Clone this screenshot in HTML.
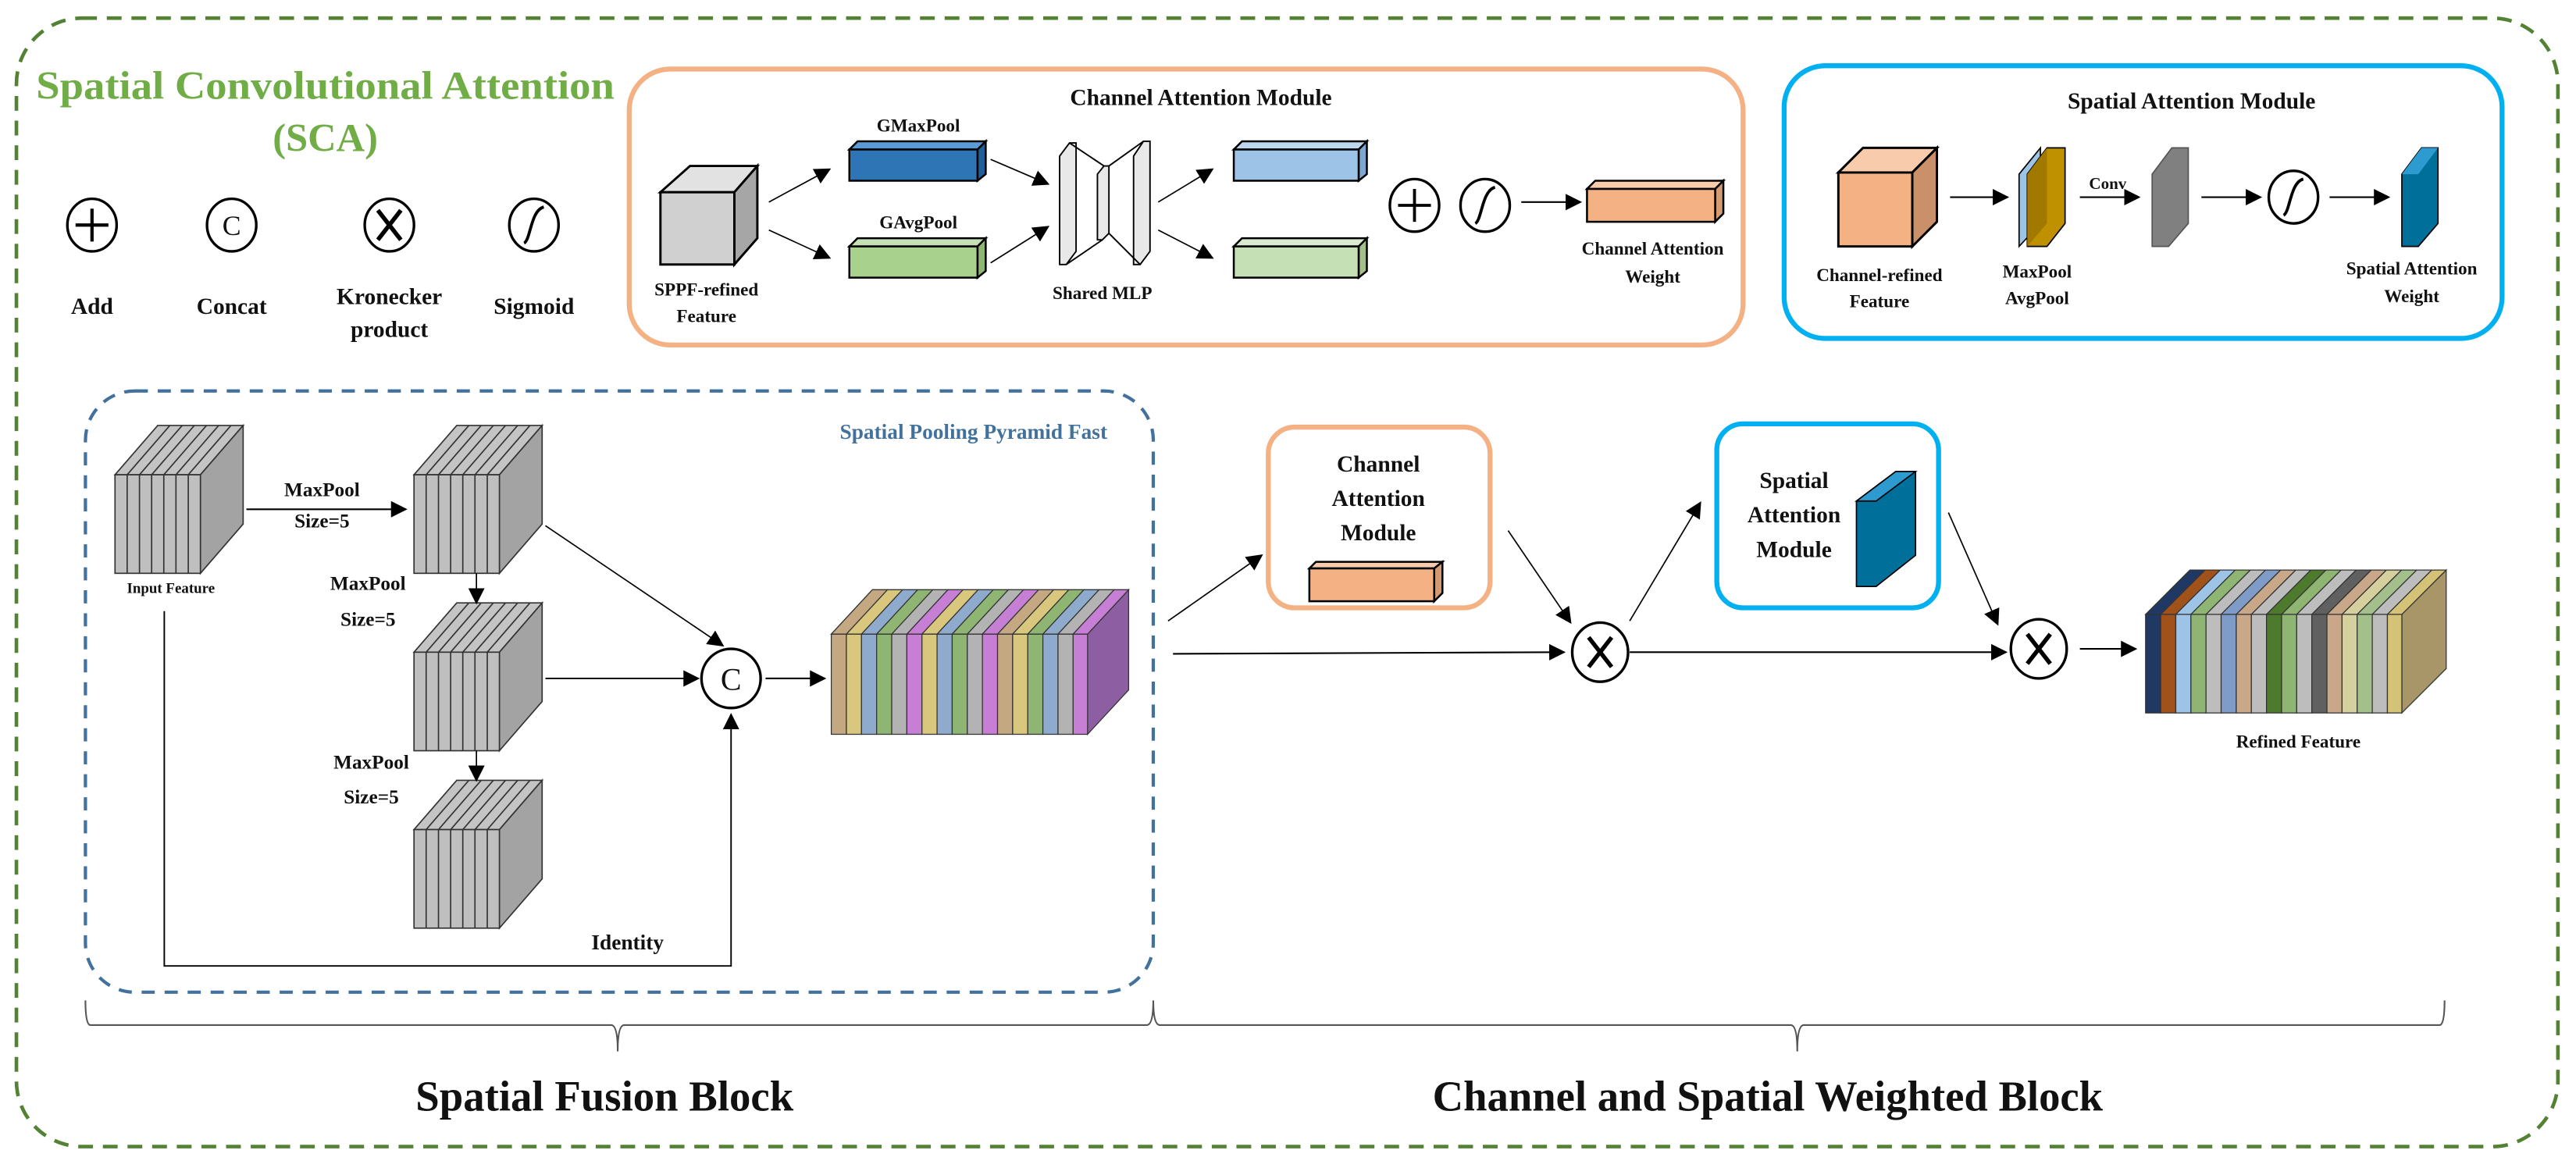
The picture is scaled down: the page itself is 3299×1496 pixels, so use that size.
<!DOCTYPE html>
<html><head><meta charset="utf-8"><style>
html,body{margin:0;padding:0;background:#fff;}
svg{display:block;}
text{font-family:"Liberation Serif",serif;font-weight:bold;fill:#111;}
</style></head><body>
<svg width="3299" height="1496" viewBox="0 0 1568 711" xmlns="http://www.w3.org/2000/svg">
<defs>
<marker id="ah" markerUnits="userSpaceOnUse" markerWidth="10" markerHeight="10" refX="9" refY="5" orient="auto">
<path d="M0,0 L10,5 L0,10 z" fill="#000"/></marker>
<g id="gcube">
<polygon points="0,0 26,-30 78,-30 52,0" fill="#c4c4c4" stroke="#333" stroke-width="0.8"/>
<polygon points="52,0 78,-30 78,30 52,60" fill="#a3a3a3" stroke="#333" stroke-width="0.8"/>
<rect x="0" y="0" width="52" height="60" fill="#bfbfbf" stroke="#333" stroke-width="0.8"/>
<g stroke="#333" stroke-width="0.8">
<line x1="7.4" y1="0" x2="7.4" y2="60"/><line x1="14.9" y1="0" x2="14.9" y2="60"/><line x1="22.3" y1="0" x2="22.3" y2="60"/><line x1="29.7" y1="0" x2="29.7" y2="60"/><line x1="37.1" y1="0" x2="37.1" y2="60"/><line x1="44.6" y1="0" x2="44.6" y2="60"/>
<line x1="7.4" y1="0" x2="33.4" y2="-30"/><line x1="14.9" y1="0" x2="40.9" y2="-30"/><line x1="22.3" y1="0" x2="48.3" y2="-30"/><line x1="29.7" y1="0" x2="55.7" y2="-30"/><line x1="37.1" y1="0" x2="63.1" y2="-30"/><line x1="44.6" y1="0" x2="70.6" y2="-30"/>
</g></g>
<g id="circ"><ellipse cx="0" cy="0" rx="15" ry="16" fill="#fff" stroke="#000" stroke-width="1.6"/></g>
</defs>

<rect x="10" y="11" width="1547" height="687" rx="40" fill="none" stroke="#548235" stroke-width="2.2" stroke-dasharray="9,6"/>
<text x="22" y="60" font-size="24" style="fill:#70ad47" textLength="352" lengthAdjust="spacingAndGlyphs">Spatial Convolutional Attention</text>
<text x="198" y="92" font-size="24" text-anchor="middle" style="fill:#70ad47">(SCA)</text>

<use href="#circ" x="56" y="137"/><path d="M56,127 V147 M46,137 H66" stroke="#000" stroke-width="2"/>
<use href="#circ" x="141" y="137"/><text x="141" y="143" font-size="17" text-anchor="middle" style="font-weight:normal">C</text>
<use href="#circ" x="237" y="137"/><path d="M230,128 L244,146 M244,128 L230,146" stroke="#000" stroke-width="2.6"/>
<use href="#circ" x="325" y="137"/><path d="M319,148 C323,146 323,128 331,126" stroke="#000" stroke-width="1.8" fill="none"/>
<text x="56" y="191" font-size="14" text-anchor="middle">Add</text>
<text x="141" y="191" font-size="14" text-anchor="middle">Concat</text>
<text x="237" y="185" font-size="14" text-anchor="middle">Kronecker</text>
<text x="237" y="205" font-size="14" text-anchor="middle">product</text>
<text x="325" y="191" font-size="14" text-anchor="middle">Sigmoid</text>

<rect x="383" y="42" width="678" height="168" rx="25" fill="none" stroke="#f4b183" stroke-width="3"/>
<text x="731" y="64" font-size="14" text-anchor="middle">Channel Attention Module</text>
<polygon points="402,117 420,101 461,101 447,117" fill="#e2e2e2" stroke="#000" stroke-width="1.4"/>
<polygon points="447,117 461,101 461,145 447,161" fill="#a6a6a6" stroke="#000" stroke-width="1.4"/>
<rect x="402" y="117" width="45" height="44" fill="#d0d0d0" stroke="#000" stroke-width="1.4"/>
<text x="430" y="180" font-size="11" text-anchor="middle">SPPF-refined</text>
<text x="430" y="196" font-size="11" text-anchor="middle">Feature</text>
<line x1="468" y1="123" x2="505" y2="103" stroke="#000" stroke-width="0.8" marker-end="url(#ah)"/>
<line x1="468" y1="140" x2="505" y2="157" stroke="#000" stroke-width="0.8" marker-end="url(#ah)"/>
<polygon points="517,91 522,86 600,86 595,91" fill="#5b9bd5" stroke="#000" stroke-width="1.2"/>
<polygon points="595,91 600,86 600,106 595,110" fill="#1f5f99" stroke="#000" stroke-width="1.2"/>
<rect x="517" y="91" width="78" height="19" fill="#2e75b6" stroke="#000" stroke-width="1.2"/>
<text x="559" y="80" font-size="11" text-anchor="middle">GMaxPool</text>
<polygon points="517,150 522,145 600,145 595,150" fill="#c5e0b4" stroke="#000" stroke-width="1.2"/>
<polygon points="595,150 600,145 600,165 595,169" fill="#8fb573" stroke="#000" stroke-width="1.2"/>
<rect x="517" y="150" width="78" height="19" fill="#a9d18e" stroke="#000" stroke-width="1.2"/>
<text x="559" y="139" font-size="11" text-anchor="middle">GAvgPool</text>
<line x1="603" y1="97" x2="638" y2="112" stroke="#000" stroke-width="0.8" marker-end="url(#ah)"/>
<line x1="603" y1="160" x2="638" y2="138" stroke="#000" stroke-width="0.8" marker-end="url(#ah)"/>
<g stroke="#000" stroke-width="0.9" fill="#e8e8e8">
<polygon points="645,95 651,87 655,87 655,153 649,161 645,161"/>
<polygon points="668,106 672,101 675,101 675,142 671,146 668,146"/>
<polygon points="690,95 696,86 700,86 700,153 694,161 690,161"/>
<line x1="651" y1="87" x2="672" y2="101"/><line x1="649" y1="161" x2="671" y2="146"/>
<line x1="675" y1="101" x2="696" y2="86"/><line x1="675" y1="142" x2="694" y2="161"/>
</g>
<text x="671" y="182" font-size="11" text-anchor="middle">Shared MLP</text>
<line x1="705" y1="123" x2="738" y2="103" stroke="#000" stroke-width="0.8" marker-end="url(#ah)"/>
<line x1="705" y1="140" x2="738" y2="157" stroke="#000" stroke-width="0.8" marker-end="url(#ah)"/>
<polygon points="751,91 756,86 832,86 827,91" fill="#bdd7ee" stroke="#000" stroke-width="1.2"/>
<polygon points="827,91 832,86 832,106 827,110" fill="#7ea6cf" stroke="#000" stroke-width="1.2"/>
<rect x="751" y="91" width="76" height="19" fill="#9dc3e6" stroke="#000" stroke-width="1.2"/>
<polygon points="751,150 756,145 832,145 827,150" fill="#d9ead0" stroke="#000" stroke-width="1.2"/>
<polygon points="827,150 832,145 832,165 827,169" fill="#a4c08a" stroke="#000" stroke-width="1.2"/>
<rect x="751" y="150" width="76" height="19" fill="#c5e0b4" stroke="#000" stroke-width="1.2"/>
<use href="#circ" x="861" y="125"/><path d="M861,115 V135 M851,125 H871" stroke="#000" stroke-width="1.8"/>
<use href="#circ" x="904" y="125"/><path d="M898,136 C902,134 902,116 910,114" stroke="#000" stroke-width="1.8" fill="none"/>
<line x1="926" y1="123" x2="962" y2="123" stroke="#000" stroke-width="1" marker-end="url(#ah)"/>
<polygon points="966,115 971,110 1049,110 1044,115" fill="#f8cbad" stroke="#000" stroke-width="1.2"/>
<polygon points="1044,115 1049,110 1049,130 1044,135" fill="#d49a72" stroke="#000" stroke-width="1.2"/>
<rect x="966" y="115" width="78" height="20" fill="#f4b183" stroke="#000" stroke-width="1.2"/>
<text x="1006" y="155" font-size="11" text-anchor="middle">Channel Attention</text>
<text x="1006" y="172" font-size="11" text-anchor="middle">Weight</text>

<rect x="1086" y="40" width="437" height="166" rx="25" fill="none" stroke="#00b0f0" stroke-width="3"/>
<text x="1334" y="66" font-size="14" text-anchor="middle">Spatial Attention Module</text>
<polygon points="1119,105 1134,90 1179,90 1164,105" fill="#f8cbad" stroke="#000" stroke-width="1.4"/>
<polygon points="1164,105 1179,90 1179,135 1164,150" fill="#c9906a" stroke="#000" stroke-width="1.4"/>
<rect x="1119" y="105" width="45" height="45" fill="#f4b183" stroke="#000" stroke-width="1.4"/>
<text x="1144" y="171" font-size="11" text-anchor="middle">Channel-refined</text>
<text x="1144" y="187" font-size="11" text-anchor="middle">Feature</text>
<line x1="1187" y1="120" x2="1222" y2="120" stroke="#000" stroke-width="1" marker-end="url(#ah)"/>
<polygon points="1229,106 1242,90 1242,136 1229,150" fill="#9dc3e6" stroke="#000" stroke-width="0.8"/>
<polygon points="1234,106 1246,90 1257,90 1257,136 1246,150 1234,150" fill="#bf9000" stroke="#000" stroke-width="0.8"/>
<polygon points="1234,106 1246,90 1246,136 1234,150" fill="#a27900"/>
<text x="1240" y="169" font-size="11" text-anchor="middle">MaxPool</text>
<text x="1240" y="185" font-size="11" text-anchor="middle">AvgPool</text>
<text x="1283" y="115" font-size="10" text-anchor="middle">Conv</text>
<line x1="1266" y1="120" x2="1302" y2="120" stroke="#000" stroke-width="1" marker-end="url(#ah)"/>
<polygon points="1310,106 1322,90 1332,90 1332,136 1320,150 1310,150" fill="#808080" stroke="#555" stroke-width="0.8"/>
<line x1="1340" y1="120" x2="1376" y2="120" stroke="#000" stroke-width="1" marker-end="url(#ah)"/>
<use href="#circ" x="1396" y="120"/><path d="M1390,131 C1394,129 1394,111 1402,109" stroke="#000" stroke-width="1.8" fill="none"/>
<line x1="1418" y1="120" x2="1454" y2="120" stroke="#000" stroke-width="1" marker-end="url(#ah)"/>
<polygon points="1462,106 1474,90 1484,90 1484,136 1472,150 1462,150" fill="#006f9a" stroke="#000" stroke-width="0.8"/>
<polygon points="1462,106 1474,90 1484,90 1472,106" fill="#2e9bd0"/>
<text x="1468" y="167" font-size="11" text-anchor="middle">Spatial Attention</text>
<text x="1468" y="184" font-size="11" text-anchor="middle">Weight</text>

<rect x="52" y="238" width="650" height="366" rx="30" fill="none" stroke="#41719c" stroke-width="2" stroke-dasharray="8,6"/>
<text x="674" y="267" font-size="13" text-anchor="end" style="fill:#41719c">Spatial Pooling Pyramid Fast</text>
<use href="#gcube" x="70" y="289"/>
<use href="#gcube" x="252" y="289"/>
<use href="#gcube" x="252" y="397"/>
<use href="#gcube" x="252" y="505"/>
<text x="104" y="361" font-size="9" text-anchor="middle">Input Feature</text>
<text x="196" y="302" font-size="12" text-anchor="middle">MaxPool</text>
<text x="196" y="321" font-size="12" text-anchor="middle">Size=5</text>
<line x1="150" y1="310" x2="247" y2="310" stroke="#000" stroke-width="1" marker-end="url(#ah)"/>
<text x="224" y="359" font-size="12" text-anchor="middle">MaxPool</text>
<text x="224" y="381" font-size="12" text-anchor="middle">Size=5</text>
<text x="226" y="468" font-size="12" text-anchor="middle">MaxPool</text>
<text x="226" y="489" font-size="12" text-anchor="middle">Size=5</text>
<line x1="290" y1="349" x2="290" y2="367" stroke="#000" stroke-width="0.8" marker-end="url(#ah)"/>
<line x1="290" y1="457" x2="290" y2="475" stroke="#000" stroke-width="0.8" marker-end="url(#ah)"/>
<line x1="332" y1="320" x2="440" y2="393" stroke="#000" stroke-width="0.8" marker-end="url(#ah)"/>
<line x1="332" y1="413" x2="425" y2="413" stroke="#000" stroke-width="0.9" marker-end="url(#ah)"/>
<polyline points="100,372 100,588 445,588 445,435" fill="none" stroke="#000" stroke-width="0.9" marker-end="url(#ah)"/>
<text x="382" y="578" font-size="13" text-anchor="middle">Identity</text>
<ellipse cx="445" cy="413" rx="18" ry="18" fill="#fff" stroke="#000" stroke-width="1.6"/>
<text x="445" y="420" font-size="19" text-anchor="middle" style="font-weight:normal">C</text>
<line x1="466" y1="413" x2="502" y2="413" stroke="#000" stroke-width="1" marker-end="url(#ah)"/>

<g stroke="#333" stroke-width="0.6">
<polygon points="506,386 531,359 687,359 662,386" fill="#b8b8b8"/>
<polygon points="662,386 687,359 687,420 662,447" fill="#8e5ea2"/>
<rect x="506.0" y="386" width="9.2" height="61" fill="#c4a882"/><polygon points="506.0,386 531.0,359 540.2,359 515.2,386" fill="#c4a882"/>
<rect x="515.2" y="386" width="9.2" height="61" fill="#d9c77e"/><polygon points="515.2,386 540.2,359 549.4,359 524.4,386" fill="#d9c77e"/>
<rect x="524.4" y="386" width="9.2" height="61" fill="#8eaacc"/><polygon points="524.4,386 549.4,359 558.6,359 533.6,386" fill="#8eaacc"/>
<rect x="533.6" y="386" width="9.2" height="61" fill="#8fb573"/><polygon points="533.6,386 558.6,359 567.8,359 542.8,386" fill="#8fb573"/>
<rect x="542.8" y="386" width="9.2" height="61" fill="#b3b3b3"/><polygon points="542.8,386 567.8,359 577.0,359 552.0,386" fill="#b3b3b3"/>
<rect x="552.0" y="386" width="9.2" height="61" fill="#c77fd6"/><polygon points="552.0,386 577.0,359 586.2,359 561.2,386" fill="#c77fd6"/>
<rect x="561.2" y="386" width="9.2" height="61" fill="#d9c77e"/><polygon points="561.2,386 586.2,359 595.4,359 570.4,386" fill="#d9c77e"/>
<rect x="570.4" y="386" width="9.2" height="61" fill="#8eaacc"/><polygon points="570.4,386 595.4,359 604.6,359 579.6,386" fill="#8eaacc"/>
<rect x="579.6" y="386" width="9.2" height="61" fill="#8fb573"/><polygon points="579.6,386 604.6,359 613.8,359 588.8,386" fill="#8fb573"/>
<rect x="588.8" y="386" width="9.2" height="61" fill="#b3b3b3"/><polygon points="588.8,386 613.8,359 623.0,359 598.0,386" fill="#b3b3b3"/>
<rect x="598.0" y="386" width="9.2" height="61" fill="#c77fd6"/><polygon points="598.0,386 623.0,359 632.2,359 607.2,386" fill="#c77fd6"/>
<rect x="607.2" y="386" width="9.2" height="61" fill="#c4a882"/><polygon points="607.2,386 632.2,359 641.4,359 616.4,386" fill="#c4a882"/>
<rect x="616.4" y="386" width="9.2" height="61" fill="#d9c77e"/><polygon points="616.4,386 641.4,359 650.6,359 625.6,386" fill="#d9c77e"/>
<rect x="625.6" y="386" width="9.2" height="61" fill="#8fb573"/><polygon points="625.6,386 650.6,359 659.8,359 634.8,386" fill="#8fb573"/>
<rect x="634.8" y="386" width="9.2" height="61" fill="#8eaacc"/><polygon points="634.8,386 659.8,359 669.0,359 644.0,386" fill="#8eaacc"/>
<rect x="644.0" y="386" width="9.2" height="61" fill="#b3b3b3"/><polygon points="644.0,386 669.0,359 678.2,359 653.2,386" fill="#b3b3b3"/>
<rect x="653.2" y="386" width="8.8" height="61" fill="#c77fd6"/><polygon points="653.2,386 678.2,359 687,359 662,386" fill="#c77fd6"/>
</g>

<line x1="711" y1="378" x2="768" y2="338" stroke="#000" stroke-width="0.8" marker-end="url(#ah)"/>
<line x1="714" y1="398" x2="952" y2="397" stroke="#000" stroke-width="1" marker-end="url(#ah)"/>
<rect x="772" y="260" width="135" height="110" rx="16" fill="none" stroke="#f4b183" stroke-width="3"/>
<text x="839" y="287" font-size="14" text-anchor="middle">Channel</text>
<text x="839" y="308" font-size="14" text-anchor="middle">Attention</text>
<text x="839" y="329" font-size="14" text-anchor="middle">Module</text>
<polygon points="797,346 801,342 878,342 873,346" fill="#f8cbad" stroke="#000" stroke-width="1.2"/>
<polygon points="873,346 878,342 878,361 873,366" fill="#d49a72" stroke="#000" stroke-width="1.2"/>
<rect x="797" y="346" width="76" height="20" fill="#f4b183" stroke="#000" stroke-width="1.2"/>
<line x1="918" y1="323" x2="956" y2="379" stroke="#000" stroke-width="0.8" marker-end="url(#ah)"/>
<ellipse cx="974" cy="397" rx="17" ry="18" fill="#fff" stroke="#000" stroke-width="1.6"/>
<path d="M967,388 L981,406 M981,388 L967,406" stroke="#000" stroke-width="2.6"/>
<line x1="992" y1="378" x2="1035" y2="306" stroke="#000" stroke-width="0.8" marker-end="url(#ah)"/>
<rect x="1045" y="258" width="135" height="112" rx="16" fill="none" stroke="#00b0f0" stroke-width="3"/>
<text x="1092" y="297" font-size="14" text-anchor="middle">Spatial</text>
<text x="1092" y="318" font-size="14" text-anchor="middle">Attention</text>
<text x="1092" y="339" font-size="14" text-anchor="middle">Module</text>
<polygon points="1130,305 1154,287 1166,287 1166,338 1142,357 1130,357" fill="#006f9a" stroke="#000" stroke-width="0.8"/>
<polygon points="1130,305 1154,287 1166,287 1142,305" fill="#2e9bd0" stroke="#000" stroke-width="0.8"/>
<line x1="1186" y1="312" x2="1216" y2="380" stroke="#000" stroke-width="0.8" marker-end="url(#ah)"/>
<line x1="992" y1="397" x2="1221" y2="397" stroke="#000" stroke-width="1" marker-end="url(#ah)"/>
<ellipse cx="1241" cy="395" rx="17" ry="18" fill="#fff" stroke="#000" stroke-width="1.6"/>
<path d="M1234,386 L1248,404 M1248,386 L1234,404" stroke="#000" stroke-width="2.6"/>
<line x1="1266" y1="395" x2="1300" y2="395" stroke="#000" stroke-width="1" marker-end="url(#ah)"/>

<g stroke="#333" stroke-width="0.6">
<polygon points="1462,374 1489,347 1489,407 1462,434" fill="#a89668"/>
<rect x="1306.0" y="374" width="9.2" height="60" fill="#1f3864"/><polygon points="1306.0,374 1333.0,347 1342.2,347 1315.2,374" fill="#1f3864"/>
<rect x="1315.2" y="374" width="9.2" height="60" fill="#a0521a"/><polygon points="1315.2,374 1342.2,347 1351.4,347 1324.4,374" fill="#a0521a"/>
<rect x="1324.4" y="374" width="9.2" height="60" fill="#9dc3e6"/><polygon points="1324.4,374 1351.4,347 1360.6,347 1333.6,374" fill="#9dc3e6"/>
<rect x="1333.6" y="374" width="9.2" height="60" fill="#8fb573"/><polygon points="1333.6,374 1360.6,347 1369.8,347 1342.8,374" fill="#8fb573"/>
<rect x="1342.8" y="374" width="9.2" height="60" fill="#bdbdbd"/><polygon points="1342.8,374 1369.8,347 1379.0,347 1352.0,374" fill="#bdbdbd"/>
<rect x="1352.0" y="374" width="9.2" height="60" fill="#7f9cc8"/><polygon points="1352.0,374 1379.0,347 1388.2,347 1361.2,374" fill="#7f9cc8"/>
<rect x="1361.2" y="374" width="9.2" height="60" fill="#c9a88a"/><polygon points="1361.2,374 1388.2,347 1397.4,347 1370.4,374" fill="#c9a88a"/>
<rect x="1370.4" y="374" width="9.2" height="60" fill="#bdbdbd"/><polygon points="1370.4,374 1397.4,347 1406.6,347 1379.6,374" fill="#bdbdbd"/>
<rect x="1379.6" y="374" width="9.2" height="60" fill="#4e7a2e"/><polygon points="1379.6,374 1406.6,347 1415.8,347 1388.8,374" fill="#4e7a2e"/>
<rect x="1388.8" y="374" width="9.2" height="60" fill="#8fb573"/><polygon points="1388.8,374 1415.8,347 1425.0,347 1398.0,374" fill="#8fb573"/>
<rect x="1398.0" y="374" width="9.2" height="60" fill="#bdbdbd"/><polygon points="1398.0,374 1425.0,347 1434.2,347 1407.2,374" fill="#bdbdbd"/>
<rect x="1407.2" y="374" width="9.2" height="60" fill="#606060"/><polygon points="1407.2,374 1434.2,347 1443.4,347 1416.4,374" fill="#606060"/>
<rect x="1416.4" y="374" width="9.2" height="60" fill="#c9a88a"/><polygon points="1416.4,374 1443.4,347 1452.6,347 1425.6,374" fill="#c9a88a"/>
<rect x="1425.6" y="374" width="9.2" height="60" fill="#d6cf9e"/><polygon points="1425.6,374 1452.6,347 1461.8,347 1434.8,374" fill="#d6cf9e"/>
<rect x="1434.8" y="374" width="9.2" height="60" fill="#a4c08a"/><polygon points="1434.8,374 1461.8,347 1471.0,347 1444.0,374" fill="#a4c08a"/>
<rect x="1444.0" y="374" width="9.2" height="60" fill="#bdbdbd"/><polygon points="1444.0,374 1471.0,347 1480.2,347 1453.2,374" fill="#bdbdbd"/>
<rect x="1453.2" y="374" width="8.8" height="60" fill="#d4c277"/><polygon points="1453.2,374 1480.2,347 1489,347 1462,374" fill="#d4c277"/>
</g>
<text x="1399" y="455" font-size="11" text-anchor="middle">Refined Feature</text>

<g fill="none" stroke="#555" stroke-width="1">
<path d="M52,609 Q52,624 55,624 L372,624 Q376,624 376,640 Q376,624 380,624 L698,624 Q702,624 702,609 Q702,624 706,624 L1090,624 Q1094,624 1094,640 Q1094,624 1098,624 L1485,624 Q1488,624 1488,609"/>
</g>
<text x="368" y="676" font-size="26" text-anchor="middle" textLength="230" lengthAdjust="spacingAndGlyphs">Spatial Fusion Block</text>
<text x="1076" y="676" font-size="26" text-anchor="middle" textLength="408" lengthAdjust="spacingAndGlyphs">Channel and Spatial Weighted Block</text>
</svg>
</body></html>
